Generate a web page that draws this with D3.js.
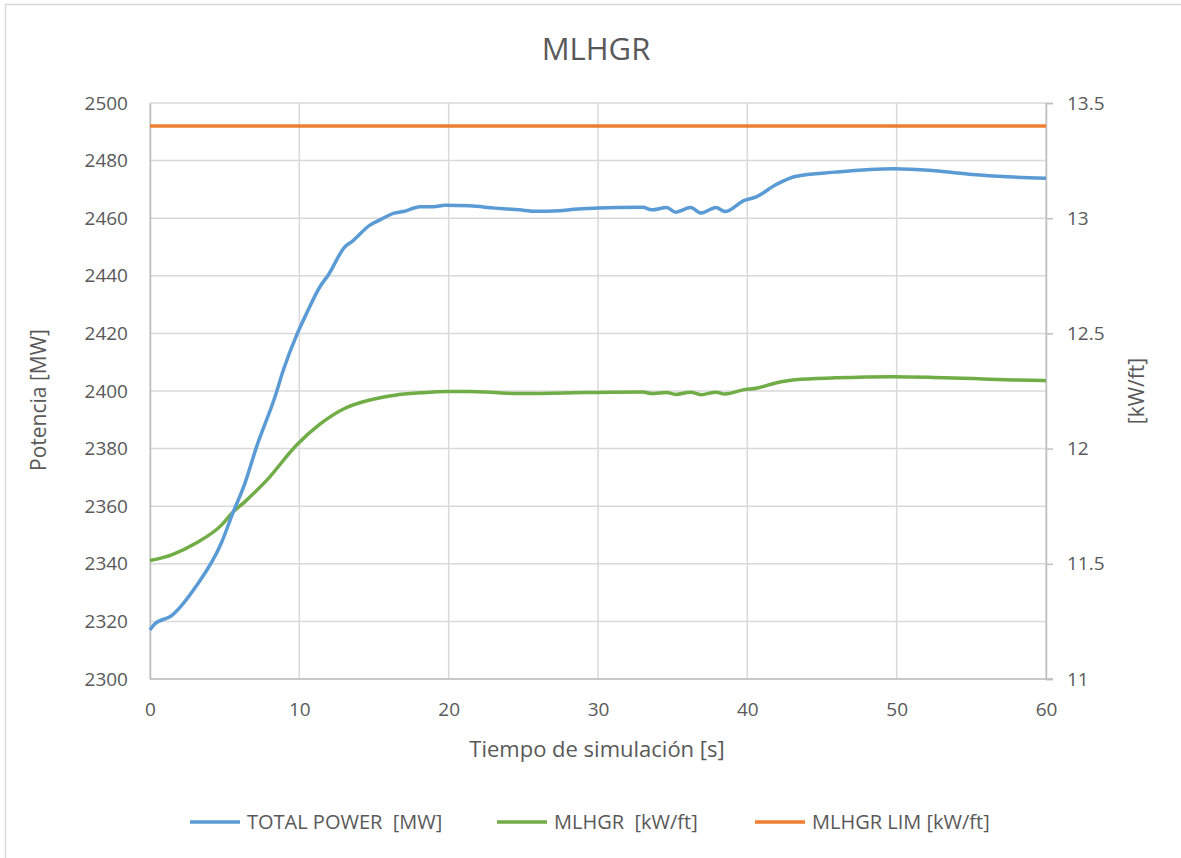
<!DOCTYPE html>
<html><head><meta charset="utf-8">
<script src="https://cdn.jsdelivr.net/npm/d3@7/dist/d3.min.js"></script>
<style>body{margin:0;background:#fff;}svg{display:block;font-family:"Open Sans","Noto Sans",sans-serif;}</style>
</head><body>
<svg id="c" width="1181" height="858"></svg>
<script>
const chartTitle = "MLHGR";
const xTitle = "Tiempo de simulación [s]";
const yLeftTitle = "Potencia [MW]";
const yRightTitle = "[kW/ft]";
const xTicks = [0,10,20,30,40,50,60];
const yLeftTicks = [2300,2320,2340,2360,2380,2400,2420,2440,2460,2480,2500];
const yRightTicks = [11,11.5,12,12.5,13,13.5];
const seriesNames = ["TOTAL POWER  [MW]","MLHGR  [kW/ft]","MLHGR LIM [kW/ft]"];
const seriesColors = ["#5b9bd5","#70ad47","#ed7d31"];

const powerT = [0,0.3,1.45,3.06,4.8,5.5,6.36,7.14,8.37,8.93,9.82,10.49,11.38,11.94,13.06,13.5,14.73,15.4,16.3,16.96,18.08,18.97,19.75,21.4,23.1,24.7,25.8,27.4,28.4,30.0,31.3,33.0,33.6,34.6,35.2,36.2,36.9,37.9,38.5,39.8,40.6,41.9,43.2,45.9,49.8,52.5,55.1,57.8,60];
const powerV = [2317,2319,2322,2332,2347.5,2357,2368,2380.7,2398,2407.3,2419.4,2427,2436.2,2440.3,2450.1,2451.8,2457.6,2459.4,2461.7,2462.3,2464,2464,2464.5,2464.3,2463.5,2462.9,2462.4,2462.6,2463.1,2463.5,2463.7,2463.8,2462.9,2463.7,2462.1,2463.7,2461.8,2463.7,2462.3,2466.2,2467.4,2471.6,2474.5,2476,2477.2,2476.5,2475.2,2474.3,2473.9];

const mlhgrT = [0,1.45,3.06,4.8,5.47,6.36,7.81,9.82,11.38,13.06,14.73,16.41,18.08,19.87,21.4,23.1,25.0,28.4,30.0,33.0,33.6,34.6,35.2,36.2,36.9,37.9,38.5,39.8,40.6,41.9,43.2,45.9,49.8,52.5,55.1,57.8,60];
const mlhgrV = [11.514,11.539,11.589,11.669,11.719,11.77,11.862,12.016,12.106,12.175,12.211,12.232,12.242,12.248,12.248,12.243,12.239,12.242,12.244,12.246,12.239,12.244,12.235,12.245,12.234,12.245,12.237,12.256,12.262,12.285,12.299,12.307,12.312,12.309,12.304,12.298,12.295];

const limT = [0,60];
const limV = [13.4,13.4];

const svg = d3.select("#c");
const W = 1181, H = 858;
const m = {l:150, r:1046, t:103, b:679};
const ink = "#595959", grid = "#d9d9d9";

svg.append("rect").attr("x",0).attr("y",0).attr("width",W).attr("height",H).attr("fill","#fff");
svg.append("path").attr("d","M5.5,858 V4.5 H1181").attr("fill","none").attr("stroke",grid).attr("stroke-width",1.5);

const x = d3.scaleLinear().domain([0,60]).range([m.l,m.r]);
const yL = d3.scaleLinear().domain([2300,2500]).range([m.b,m.t]);
const yR = d3.scaleLinear().domain([11,13.5]).range([m.b,m.t]);

const g = svg.append("g");
g.selectAll(".hg").data(yLeftTicks).join("line")
  .attr("x1",m.l).attr("x2",m.r).attr("y1",d=>yL(d)).attr("y2",d=>yL(d))
  .attr("stroke",grid).attr("stroke-width",1.5);
g.selectAll(".vg").data(xTicks).join("line")
  .attr("y1",m.t).attr("y2",m.b).attr("x1",d=>x(d)).attr("x2",d=>x(d))
  .attr("stroke",grid).attr("stroke-width",1.5);

const axX = svg.append("g").attr("transform",`translate(0,${m.b})`)
  .call(d3.axisBottom(x).tickValues(xTicks).tickSize(0).tickPadding(24).tickFormat(d3.format("d")));
const axL = svg.append("g").attr("transform",`translate(${m.l},0)`)
  .call(d3.axisLeft(yL).tickValues(yLeftTicks).tickSize(0).tickPadding(22).tickFormat(d3.format("d")));
const axR = svg.append("g").attr("transform",`translate(${m.r},0)`)
  .call(d3.axisRight(yR).tickValues(yRightTicks).tickSize(7).tickPadding(14).tickFormat(d=>String(d)));
[axX,axL,axR].forEach(a=>{
  a.select(".domain").attr("stroke","#bfbfbf").attr("stroke-width",1.5);
  a.selectAll("line").attr("stroke","#bfbfbf").attr("stroke-width",1.5);
  a.selectAll("text").attr("fill",ink).attr("font-size",19).attr("font-family","Open Sans, sans-serif");
});
axX.select(".domain").attr("d",`M${m.l},0H${m.r+7}`);

const lineP = d3.line().x((d,i)=>x(powerT[i])).y(d=>yL(d)).curve(d3.curveMonotoneX);
const lineM = d3.line().x((d,i)=>x(mlhgrT[i])).y(d=>yR(d)).curve(d3.curveMonotoneX);
const lineL = d3.line().x((d,i)=>x(limT[i])).y(d=>yR(d));
svg.append("path").attr("d",lineL(limV)).attr("fill","none").attr("stroke",seriesColors[2]).attr("stroke-width",3.5);
svg.append("path").attr("d",lineM(mlhgrV)).attr("fill","none").attr("stroke",seriesColors[1]).attr("stroke-width",3.5).attr("stroke-linejoin","round");
svg.append("path").attr("d",lineP(powerV)).attr("fill","none").attr("stroke",seriesColors[0]).attr("stroke-width",3.5).attr("stroke-linejoin","round");

svg.append("text").attr("x",596).attr("y",60).attr("text-anchor","middle").attr("fill",ink)
  .attr("font-size",31).text(chartTitle);
svg.append("text").attr("x",597).attr("y",757).attr("text-anchor","middle").attr("fill",ink)
  .attr("font-size",22).text(xTitle);
svg.append("text").attr("transform","translate(46,400) rotate(-90)").attr("text-anchor","middle").attr("fill",ink)
  .attr("font-size",21).text(yLeftTitle);
svg.append("text").attr("transform","translate(1144,391) rotate(-90)").attr("text-anchor","middle").attr("fill",ink)
  .attr("font-size",21).text(yRightTitle);

const legX = [190,497,755];
const leg = svg.append("g");
seriesNames.forEach((n,i)=>{
  leg.append("line").attr("x1",legX[i]).attr("x2",legX[i]+50).attr("y1",822).attr("y2",822)
    .attr("stroke",seriesColors[i]).attr("stroke-width",3.5);
  leg.append("text").attr("x",legX[i]+57).attr("y",829).attr("fill",ink).attr("font-size",20)
    .attr("xml:space","preserve").style("white-space","pre").text(n);
});
</script>
</body></html>
